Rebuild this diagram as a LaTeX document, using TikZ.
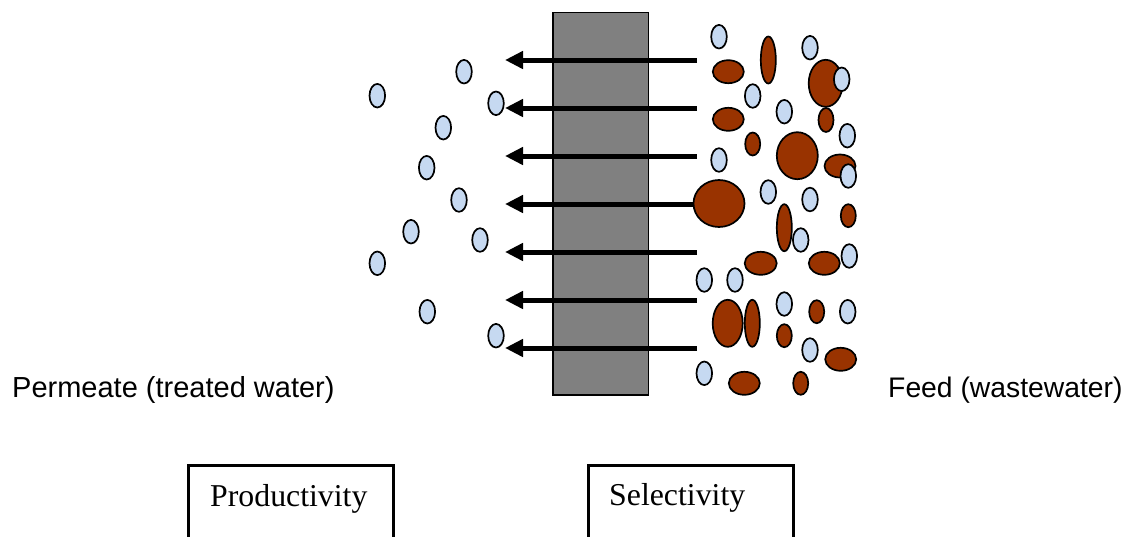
\documentclass[tikz,border=0pt]{standalone}
\usepackage{fontspec}
\setmainfont{Liberation Serif}
\newfontfamily\arialf{Liberation Sans}
\usetikzlibrary{arrows.meta}
\definecolor{waterblue}{HTML}{C6D9F1}
\definecolor{solidbrown}{HTML}{993300}
\definecolor{membrgray}{HTML}{808080}
\begin{document}
\begin{tikzpicture}[x=1pt,y=-1pt,
  water/.style={draw=black,line width=1.7pt,fill=waterblue},
  particle/.style={draw=black,line width=1.7pt,fill=solidbrown},
  flow/.style={line width=5pt,-{Triangle[length=18pt,width=17pt]}},
  membranebox/.style={draw=black,line width=1.8pt,fill=membrgray,inner sep=0pt,outer sep=0pt},
  labelbox/.style={draw=black,line width=3pt,inner sep=0pt,outer sep=0pt,anchor=north west},
  sidelabel/.style={anchor=base west,inner sep=0pt,font=\arialf\fontsize{29}{33}\selectfont},
  boxlabel/.style={anchor=base west,inner sep=0pt,font=\fontsize{31.8}{36}\selectfont}]
\useasboundingbox (0,0) rectangle (1133,536);
\clip (0,0) rectangle (1133,536);
% membrane
\node[membranebox,minimum width=95.5pt,minimum height=382.5pt] (mem) at (600.75,203.75) {};
% flow arrows
\foreach \yy [count=\i] in {60,108,156,204,252,300,348}{
  \coordinate (s\i) at (697,\yy);
  \coordinate (e\i) at (505,\yy);
  \draw[flow] (s\i) -- (e\i);
}
% brown particles
\foreach \px/\py/\rx/\ry in {
  728.3/71.7/15.5/11.5, 768.3/60/7.5/23.5, 825.7/83.3/17/23.5, 728.3/119.3/15.5/11.5,
  826/120/7.5/12, 752.7/144/7.5/11.5, 797.3/155.7/20.5/23.5, 840/166/15.5/11.5,
  719/203.5/25.5/23.5, 848.3/215.7/7.5/11.5, 784.3/227.7/7.5/23.5, 760.7/263.3/16/11.5,
  824.3/263.3/15.5/11.5, 727.7/323.3/15/23.5, 752.3/323.3/7.5/23.5, 816.7/311.7/7.5/11.5,
  784.3/335.7/7.5/11.5, 840.7/359.3/15.5/11.5, 744.3/383.3/15.5/11.5, 800.7/383.3/7.5/11.5}{
  \draw[particle] (\px,\py) ellipse [x radius=\rx, y radius=\ry];
}
% water molecules
\foreach \px/\py in {
  464/71.7, 377.3/95.7, 496/103.3, 443.3/127.7, 426.7/167.7, 459/200, 411/231.7,
  480/240, 377.3/263.3, 427.3/311.7, 496/335.7,
  719/36.7, 810/47.7, 752.7/96, 784.3/111.7, 841.7/79.3, 847.3/135.7, 719/160,
  848.3/176, 768.3/192, 810/199.5, 800.7/240, 849.3/256, 704.3/280, 735/280,
  784.3/304, 847.7/311.7, 810/350, 704.3/373.3}{
  \draw[water] (\px,\py) ellipse [x radius=7.8, y radius=11.8];
}
% side labels
\node[sidelabel] (perm) at (12,397.5) {Permeate (treated water)};
\node[sidelabel,font=\arialf\fontsize{28.3}{32}\selectfont] (feed) at (888,397.5) {Feed (wastewater)};
% bottom boxes
\node[labelbox,minimum width=205pt,minimum height=140pt] (pbox) at (188.5,465.5) {};
\node[labelbox,minimum width=205.5pt,minimum height=140pt] (sbox) at (588,465.5) {};
\node[boxlabel] (ptext) at (210,506) {Productivity};
\node[boxlabel] (stext) at (609,505.5) {Selectivity};
\end{tikzpicture}
\end{document}
